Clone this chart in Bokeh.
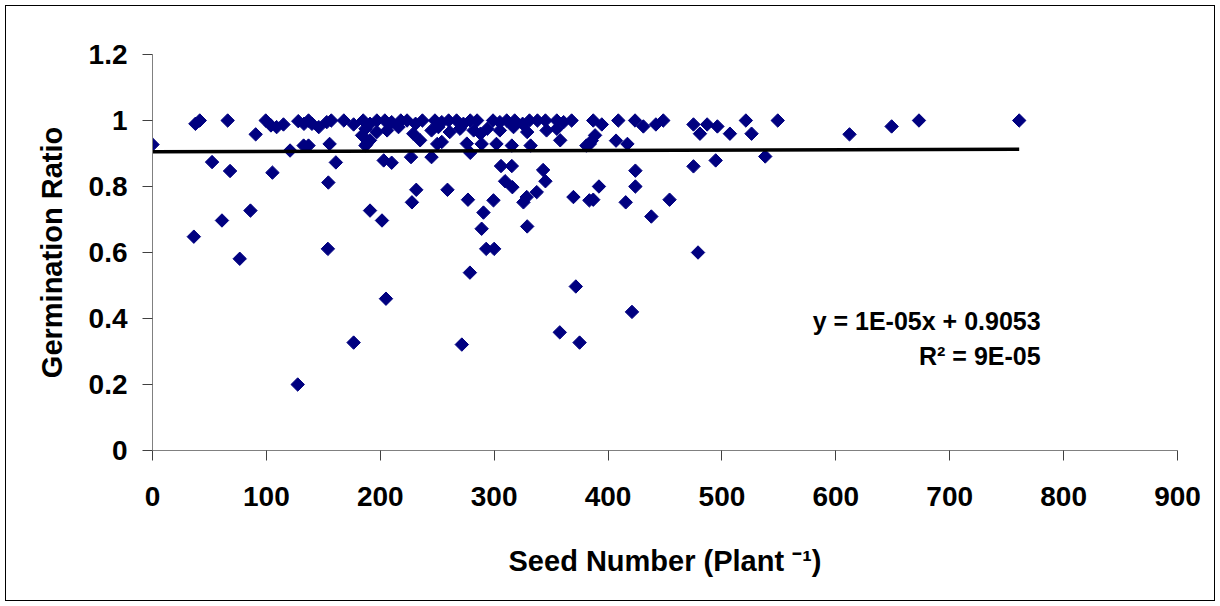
import numpy as np
from bokeh.plotting import figure
from bokeh.models import Label, NumeralTickFormatter, Range1d, InlineStyleSheet
from bokeh.embed import file_html
from bokeh.resources import INLINE

# ---- data ----
seed_number = [
    0, 37.7, 41.5, 36.3, 52.3, 61, 66, 68.1, 76.6, 86, 90.6, 99.4, 104, 109, 115,
    105.3, 120.8, 127.5, 128, 133, 137, 140, 132.7, 137, 146, 153, 154, 154.4,
    155.5, 157, 161, 168, 176.6, 176.6, 184, 187, 191, 201.5, 203, 205, 210,
    185, 191, 197, 204, 210, 218, 223.5, 231, 237, 248, 254, 260, 267, 273, 279,
    285, 299, 305, 311, 318, 325, 331, 338, 345, 355, 361, 368,
    187, 197, 206, 216, 229, 245, 251, 261, 270, 282, 288, 294, 305, 317, 329, 346, 355,
    188, 191, 235, 250, 254, 276, 289, 302, 315.5, 332, 358, 384,
    227, 245, 279, 306, 315.5, 343, 345, 309.6, 316, 231.6, 259, 337.4, 328.6,
    325.7, 369.6, 227.8, 277, 299.4, 290.6, 289, 329, 293, 300, 278.7, 371.7,
    357.6, 375, 271.6, 383.6,
    387, 394.5, 409, 423.7, 431, 442, 448.5, 475, 480.7, 487, 496, 507, 521, 526, 549,
    388.6, 385.7, 381, 407, 417,
    538, 475, 494.5, 424, 424, 392, 387, 415.5, 454, 438, 479, 421,
    612, 649, 673, 761,
]
germination_ratio = [
    0.927, 0.99, 1.0, 0.648, 0.874, 0.697, 1.0, 0.847, 0.581, 0.727, 0.958, 1.0, 0.985, 0.98, 0.988,
    0.842, 0.909, 0.2, 0.998, 0.99, 1.0, 0.99, 0.924, 0.924, 0.98, 0.995, 0.611, 0.812,
    0.929, 1.0, 0.873, 1.0, 0.988, 0.327, 0.955, 0.924, 0.727, 0.697, 0.879, 0.46, 0.872,
    1.0, 0.99, 1.0, 1.0, 0.995, 1.0, 1.0, 0.99, 1.0, 1.0, 0.995, 1.0, 1.0, 0.99, 1.0,
    1.0, 1.0, 0.995, 1.0, 1.0, 0.99, 1.0, 1.0, 1.0, 1.0, 0.995, 1.0,
    0.975, 0.965, 0.97, 0.98, 0.96, 0.97, 0.98, 0.965, 0.975, 0.97, 0.96, 0.975, 0.97, 0.98, 0.965, 0.97, 0.975,
    0.929, 0.94, 0.94, 0.929, 0.935, 0.93, 0.929, 0.929, 0.924, 0.924, 0.94, 0.929,
    0.889, 0.889, 0.902, 0.862, 0.862, 0.85, 0.816, 0.816, 0.798, 0.79, 0.79, 0.783, 0.768,
    0.752, 0.768, 0.752, 0.76, 0.758, 0.721, 0.672, 0.679, 0.611, 0.611, 0.539, 0.497,
    0.358, 0.327, 0.321, 0.758,
    1.0, 0.988, 1.0, 1.0, 0.982, 0.988, 1.0, 0.988, 0.96, 0.988, 0.982, 0.96, 1.0, 0.96, 1.0,
    0.955, 0.939, 0.924, 0.939, 0.929,
    0.891, 0.861, 0.879, 0.848, 0.8, 0.8, 0.76, 0.752, 0.76, 0.709, 0.6, 0.42,
    0.958, 0.982, 1.0, 1.0,
]
slope = 1e-05
intercept = 0.9053
x_ticks = [0, 100, 200, 300, 400, 500, 600, 700, 800, 900]
y_ticks = [0, 0.2, 0.4, 0.6, 0.8, 1.0, 1.2]
equation_text = "y = 1E-05x + 0.9053"
r2_text = "R\u00b2 = 9E-05"
x_title = "Seed Number (Plant \u207b\u00b9)"
y_title = "Germination Ratio"

FONT = "Liberation Sans"

border_css = """
:host::after {
  content: "";
  position: absolute;
  left: 5px; top: 5px; right: 5px; bottom: 5px;
  border: 1px solid #000;
  pointer-events: none;
  z-index: 1000;
}
"""

p = figure(width=1220, height=606, output_backend="svg", toolbar_location=None,
           x_range=Range1d(0, 900), y_range=Range1d(0, 1.2),
           min_border_left=152, min_border_right=43, min_border_top=54,
           min_border_bottom=156)
p.stylesheets = [InlineStyleSheet(css=border_css)]
p.background_fill_color = "white"
p.border_fill_color = "white"
p.outline_line_color = None
p.grid.visible = False

p.scatter(seed_number, germination_ratio, marker="square", size=9.5,
          angle=np.pi / 4, fill_color="#000080", line_color="#000080")

x_end = max(seed_number)
p.line([0, x_end], [intercept, intercept + slope * x_end], line_width=3.5,
       line_color="black")

for ax in (p.xaxis[0], p.yaxis[0]):
    ax.axis_line_color = "#808080"
    ax.major_tick_line_color = "#404040"
    ax.minor_tick_line_color = None
    ax.major_tick_in = 0
    ax.major_tick_out = 10
    ax.major_label_text_font = FONT
    ax.major_label_text_font_style = "bold"
    ax.major_label_text_font_size = "28px"
    ax.major_label_text_color = "black"
    ax.axis_label_text_font = FONT
    ax.axis_label_text_font_style = "bold"
    ax.axis_label_text_font_size = "29px"
    ax.axis_label_text_color = "black"

p.xaxis.ticker = x_ticks
p.yaxis.ticker = y_ticks
p.yaxis.formatter = NumeralTickFormatter(format="0.[0]")
p.xaxis.major_label_standoff = 26
p.yaxis.major_label_standoff = 15

p.yaxis.axis_label = y_title
p.yaxis.axis_label_standoff = 18
p.xaxis.axis_label = x_title
p.xaxis.axis_label_standoff = 36

# trendline equation
p.add_layout(Label(x=779.8, y=0.391, text=equation_text, text_font=FONT,
                   text_font_style="bold", text_font_size="25px",
                   text_align="right", text_baseline="alphabetic", text_color="black"))
p.add_layout(Label(x=779.8, y=0.285, text=r2_text, text_font=FONT,
                   text_font_style="bold", text_font_size="25px",
                   text_align="right", text_baseline="alphabetic", text_color="black"))

open("out.html", "w").write(file_html(p, INLINE))
